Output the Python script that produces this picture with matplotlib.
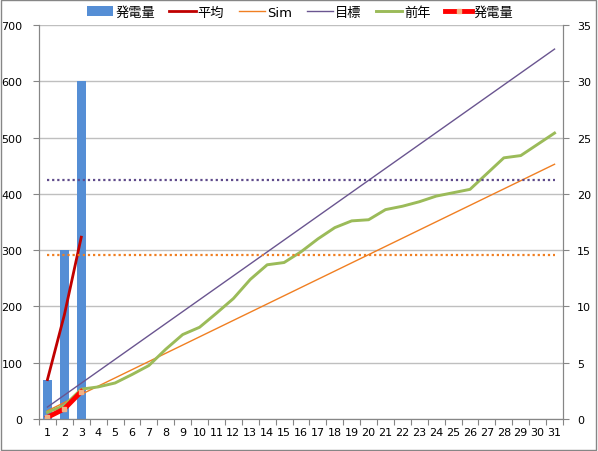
import numpy as np
import matplotlib.pyplot as plt
from matplotlib.patches import Rectangle

plt.rcParams['font.family'] = ['DejaVu Sans', 'Noto Sans CJK JP']

# datos del mes (dias 1..31)
dias = list(range(1, 32))
hatsuden = [70, 300, 600]               # 発電量 diario (eje izq.)
heikin = [70, 185, 323]                 # 平均 (eje izq.)
ruikei = [0.15, 0.9, 2.43]              # 発電量 acumulado (eje der.)
sim = [0.73, 1.46, 2.19, 2.92, 3.65, 4.38, 5.11, 5.84, 6.57, 7.30, 8.03,
       8.76, 9.49, 10.22, 10.95, 11.68, 12.41, 13.14, 13.87, 14.60, 15.33,
       16.06, 16.79, 17.52, 18.25, 18.98, 19.71, 20.44, 21.17, 21.90, 22.63]
mokuhyo = [1.06, 2.12, 3.18, 4.24, 5.30, 6.36, 7.42, 8.48, 9.54, 10.60,
           11.66, 12.72, 13.78, 14.84, 15.90, 16.96, 18.02, 19.08, 20.14,
           21.20, 22.26, 23.32, 24.38, 25.44, 26.50, 27.56, 28.62, 29.68,
           30.74, 31.80, 32.86]
zennen = [0.6, 1.2, 2.65, 2.85, 3.2, 3.95, 4.75, 6.2, 7.5, 8.15, 9.4, 10.7,
          12.4, 13.7, 13.9, 14.85, 16.0, 17.0, 17.6, 17.7, 18.6, 18.9, 19.3,
          19.8, 20.1, 20.4, 21.8, 23.2, 23.4, 24.4, 25.4]
mokuhyo_lv = [21.2] * 31
sim_lv = [14.6] * 31

fig = plt.figure(figsize=(5.98, 4.52), dpi=100)
ax = fig.add_axes([39/598, 32/452, 524/598, 394/452])
ax2 = ax.twinx()

gris = '#868686'

b = ax.bar(dias[:len(hatsuden)], hatsuden, width=0.52, color='#558ed5', zorder=2)
l1, = ax.plot(dias[:len(heikin)], heikin, color='#c00000', lw=2, zorder=3)

l2, = ax2.plot(dias, sim, color='#f07f22', lw=1)
l3, = ax2.plot(dias, mokuhyo, color='#6a5590', lw=1)
l4, = ax2.plot(dias, zennen, color='#9bbb59', lw=2.1)
ax2.plot(dias, mokuhyo_lv, color='#5f4b8b', lw=1.6, ls=(0, (1, 1.3)))
ax2.plot(dias, sim_lv, color='#f07f22', lw=1.6, ls=(0, (1, 1.3)))
l5, = ax2.plot(dias[:len(ruikei)], ruikei, color='#ff0000', lw=3.5,
               marker='s', ms=3, mfc='#f4b183', mec='#f4b183')

ax.set_xlim(0.5, 31.5)
ax.set_ylim(0, 700)
ax2.set_ylim(0, 35)
ax.set_yticks(range(0, 701, 100))
ax2.set_yticks(range(0, 36, 5))
ax.yaxis.grid(True, color='#bfbfbf', lw=1, zorder=0)
ax.set_axisbelow(True)

ax.set_xticks(np.arange(0.5, 32, 1))
ax.set_xticklabels([])
ax.set_xticks(dias, minor=True)
ax.set_xticklabels([str(d) for d in dias], minor=True, fontsize=8)
ax.tick_params(axis='x', which='minor', length=0, pad=6)
ax.tick_params(axis='x', which='major', length=4, color=gris)
ax.tick_params(axis='y', length=4, color=gris, labelsize=8, pad=8)
ax2.tick_params(axis='y', length=4, color=gris, labelsize=8, pad=6)

for a in (ax, ax2):
    a.spines['top'].set_visible(False)
    for s in ('left', 'right', 'bottom'):
        a.spines[s].set_color(gris)

fig.legend([b, l1, l2, l3, l4, l5], ['発電量', '平均', 'Sim', '目標', '前年', '発電量'],
           loc='center', bbox_to_anchor=(0.502, 0.971), ncol=6, frameon=False,
           fontsize=9.5, handlelength=2.0, handletextpad=0.15, columnspacing=1.1)

fig.add_artist(Rectangle((0.002, 0.002), 0.995, 0.995, transform=fig.transFigure,
                         fill=False, edgecolor=gris, lw=1))

fig.savefig('out.png', dpi=100)
